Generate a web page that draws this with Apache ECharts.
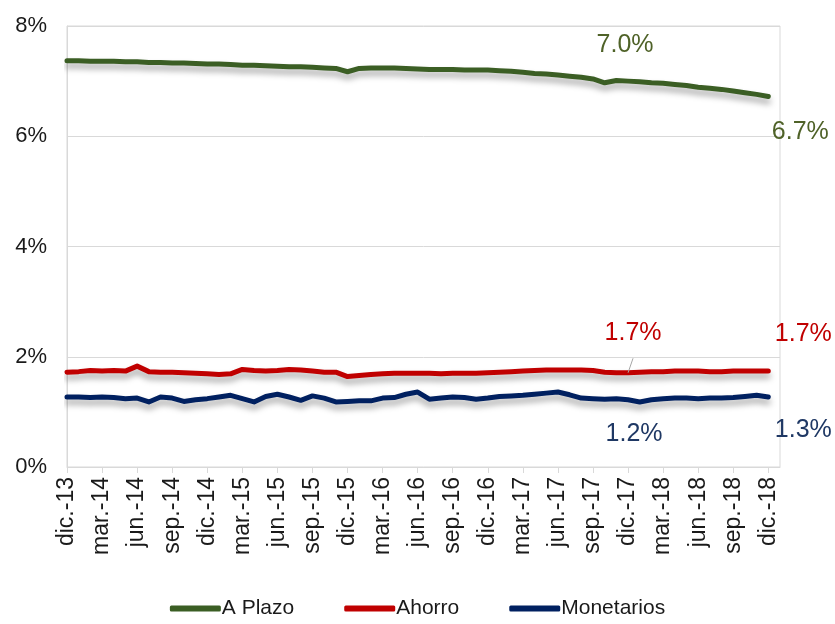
<!DOCTYPE html>
<html>
<head>
<meta charset="utf-8">
<script src="https://cdn.jsdelivr.net/npm/echarts@6/dist/echarts.min.js"></script>
<style>
  html, body { margin: 0; padding: 0; background: #fff; }
  #chart { width: 835px; height: 624px; }
</style>
</head>
<body>
<div id="chart"></div>
<script>
// monthly, dic.-13 .. dic.-18
const monthNames = ["ene.", "feb.", "mar.", "abr.", "may.", "jun.", "jul.", "ago.", "sep.", "oct.", "nov.", "dic."];
const months = ["dic.-13"];
for (let y = 14; y <= 18; y++) {
	monthNames.forEach(function (m) { months.push(m + "-" + y); });
}

const aPlazo = [
	7.37, 7.37, 7.36, 7.36, 7.36, 7.35, 7.35, 7.34, 7.34, 7.33,
	7.33, 7.32, 7.31, 7.31, 7.30, 7.29, 7.29, 7.28, 7.27, 7.26,
	7.26, 7.25, 7.24, 7.23, 7.17, 7.23, 7.24, 7.24, 7.24, 7.23,
	7.22, 7.21, 7.21, 7.21, 7.20, 7.20, 7.20, 7.19, 7.18, 7.16,
	7.14, 7.13, 7.11, 7.09, 7.07, 7.04, 6.97, 7.01, 7.00, 6.99,
	6.97, 6.96, 6.94, 6.92, 6.89, 6.87, 6.85, 6.82, 6.79, 6.76,
	6.72
];
const ahorro = [
	1.72, 1.73, 1.75, 1.74, 1.75, 1.74, 1.83, 1.73, 1.72, 1.72,
	1.71, 1.70, 1.69, 1.68, 1.69, 1.77, 1.75, 1.74, 1.75, 1.77,
	1.76, 1.74, 1.72, 1.72, 1.64, 1.66, 1.68, 1.69, 1.70, 1.70,
	1.70, 1.70, 1.69, 1.70, 1.70, 1.70, 1.71, 1.72, 1.73, 1.74,
	1.75, 1.76, 1.76, 1.76, 1.76, 1.75, 1.72, 1.71, 1.71, 1.72,
	1.73, 1.73, 1.74, 1.74, 1.74, 1.73, 1.73, 1.74, 1.74, 1.74,
	1.74
];
const monetarios = [
	1.27, 1.27, 1.26, 1.27, 1.26, 1.24, 1.25, 1.18, 1.27, 1.25,
	1.19, 1.22, 1.24, 1.27, 1.30, 1.24, 1.18, 1.28, 1.32, 1.27,
	1.21, 1.29, 1.25, 1.18, 1.19, 1.20, 1.20, 1.25, 1.26, 1.32,
	1.36, 1.23, 1.25, 1.27, 1.26, 1.23, 1.25, 1.28, 1.29, 1.30,
	1.32, 1.34, 1.36, 1.31, 1.25, 1.24, 1.23, 1.24, 1.22, 1.18,
	1.22, 1.24, 1.25, 1.25, 1.24, 1.25, 1.25, 1.26, 1.28, 1.30,
	1.27
];
const yTicks = [0, 2, 4, 6, 8];

const FONT = "'Liberation Sans', Arial, sans-serif";
const MID = 48; // dic.-17
const LAST = 60; // dic.-18

function withLabels(values, color, midLabel, lastLabel, midLine) {
	return values.map(function (v, i) {
		if (i === MID) {
			const item = { value: v, label: Object.assign({ show: true, color: color }, midLabel) };
			if (midLine) item.labelLine = { show: true, lineStyle: { color: "#a6a6a6", width: 1 } };
			return item;
		}
		if (i === LAST) return { value: v, label: Object.assign({ show: true, color: color }, lastLabel) };
		return v;
	});
}

function lineSeries(name, color, data) {
	return {
		name: name,
		type: "line",
		data: data,
		symbol: "circle",
		symbolSize: 0,
		showSymbol: true,
		silent: true,
		itemStyle: { color: color },
		lineStyle: {
			color: color,
			width: 5,
			cap: "round",
			join: "round",
			shadowColor: "rgba(0,0,0,0.35)",
			shadowBlur: 6,
			shadowOffsetY: 5,
		},
		labelLine: { show: false },
		label: {
			fontFamily: FONT,
			fontSize: 25,
			formatter: function (p) { return p.value.toFixed(1) + "%"; },
		},
	};
}

const chart = echarts.init(document.getElementById("chart"));
chart.setOption({
	animation: false,
	textStyle: { fontFamily: FONT },
	grid: {
		left: 67,
		right: 55,
		top: 26,
		bottom: 157,
		show: true,
		borderColor: "#d9d9d9",
		borderWidth: 1,
	},
	legend: {
		bottom: 0,
		left: "center",
		itemWidth: 51,
		itemHeight: 6,
		itemGap: 50,
		icon: "roundRect",
		textStyle: { fontFamily: FONT, fontSize: 21, color: "#1a1a1a", padding: [0, 0, 0, -4] },
		data: ["A Plazo", "Ahorro", "Monetarios"],
	},
	xAxis: {
		type: "category",
		boundaryGap: false,
		data: months.concat([""]),
		axisLine: { lineStyle: { color: "#d9d9d9" } },
		axisTick: { interval: 2, length: 6, lineStyle: { color: "#d9d9d9" } },
		axisLabel: {
			interval: 2,
			rotate: 90,
			margin: 10,
			fontFamily: FONT,
			fontSize: 23,
			color: "#1a1a1a",
		},
		splitLine: { show: false },
	},
	yAxis: {
		type: "value",
		min: yTicks[0],
		max: yTicks[yTicks.length - 1],
		interval: 2,
		axisLine: { show: true, lineStyle: { color: "#d9d9d9" } },
		axisTick: { show: false },
		axisLabel: {
			margin: 20,
			fontFamily: FONT,
			fontSize: 22,
			color: "#1a1a1a",
			formatter: "{value}%",
		},
		splitLine: { lineStyle: { color: "#d9d9d9" } },
	},
	series: [
		lineSeries("A Plazo", "#3b5e24", withLabels(aPlazo, "#4f6228",
			{ position: "top", distance: 24, offset: [-3, 0] },
			{ position: "bottom", distance: 23, offset: [32, 0] })),
		lineSeries("Ahorro", "#c00000", withLabels(ahorro, "#c00000",
			{ position: "top", distance: 27, offset: [5, 0] },
			{ position: "top", distance: 24, offset: [35, 0] }, true)),
		lineSeries("Monetarios", "#002060", withLabels(monetarios, "#1f3864",
			{ position: "bottom", distance: 22, offset: [6, 0] },
			{ position: "bottom", distance: 21, offset: [35, 0] })),
	],
});
</script>
</body>
</html>
